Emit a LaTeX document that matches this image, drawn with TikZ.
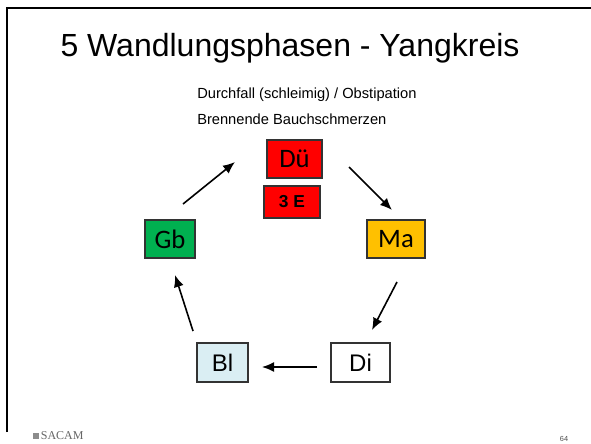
\documentclass[tikz,border=0pt]{standalone}
\usepackage{fontspec}
\setmainfont{Liberation Sans}
\newfontfamily\boxfont{Carlito}
\newfontfamily\footfont{Liberation Serif}
\usetikzlibrary{arrows.meta}
\definecolor{duered}{HTML}{FF0000}
\definecolor{gbgreen}{HTML}{00B050}
\definecolor{maorange}{HTML}{FFC000}
\definecolor{blblue}{HTML}{DAEEF3}
\tikzset{
	phase/.style={draw=black!80, line width=0.8pt, inner sep=0pt, font=\boxfont\fontsize{20}{24}\selectfont},
	phasesans/.style={phase, font=\fontsize{18}{22}\selectfont},
	flow/.style={-{Latex[length=9pt,width=7.5pt]}, line width=1.2pt}
}
\begin{document}
\begin{tikzpicture}[x=0.75pt,y=-0.75pt]
	\useasboundingbox (0,0) rectangle (591,443);
	\draw[line width=1.5pt] (6.5,432) -- (6.5,7.5) -- (591,7.5);

	\draw (290,56) node[anchor=base,inner sep=0pt,font=\fontsize{24}{28}\selectfont] (title){5 Wandlungsphasen - Yangkreis};
	\draw (197,98) node[anchor=base west,inner sep=0pt,font=\fontsize{11}{13}\selectfont] (sym1){Durchfall (schleimig) / Obstipation};
	\draw (197,124) node[anchor=base west,inner sep=0pt,font=\fontsize{11}{13}\selectfont] (sym2){Brennende Bauchschmerzen};

	\draw (294.5,159) node[phase,fill=duered,minimum width=41.25pt,minimum height=28.5pt] (Du){Dü};
	\draw (292,202) node[phase,fill=duered,minimum width=42pt,minimum height=24pt,font=\bfseries\fontsize{13}{15}\selectfont] (E3){3 E};
	\draw (396,239) node[phase,fill=maorange,minimum width=43.5pt,minimum height=28.5pt] (Ma){Ma};
	\draw (360.5,362.5) node[phasesans,fill=white,minimum width=44.25pt,minimum height=29.25pt] (Di){Di};
	\draw (222.5,362.5) node[phasesans,fill=blblue,minimum width=38.25pt,minimum height=29.25pt] (Bl){Bl};
	\draw (170,239) node[phase,fill=gbgreen,minimum width=37.5pt,minimum height=28.5pt] (Gb){Gb};

	\coordinate (gb1) at (183,204);
	\coordinate (du0) at (235,162);
	\coordinate (du1) at (349,167);
	\coordinate (ma0) at (392,210);
	\coordinate (ma1) at (397,282);
	\coordinate (di0) at (372,330);
	\coordinate (di1) at (317,367);
	\coordinate (bl0) at (262,367);
	\coordinate (bl1) at (193,331);
	\coordinate (gb0) at (175,275);

	\draw[flow] (gb1) -- (du0);
	\draw[flow] (du1) -- (ma0);
	\draw[flow] (ma1) -- (di0);
	\draw[flow] (di1) -- (bl0);
	\draw[flow] (bl1) -- (gb0);

	\draw (36,436) node[fill=black!45,minimum size=4.5pt,inner sep=0pt] (logo){};
	\draw (logo.east) node[anchor=west,inner sep=1pt,text=black!60,font=\footfont\fontsize{9}{10}\selectfont] (sacam){SACAM};
	\draw (564,439) node[text=black!70,font=\fontsize{5.5}{6}\selectfont] (page){64};
\end{tikzpicture}
\end{document}
